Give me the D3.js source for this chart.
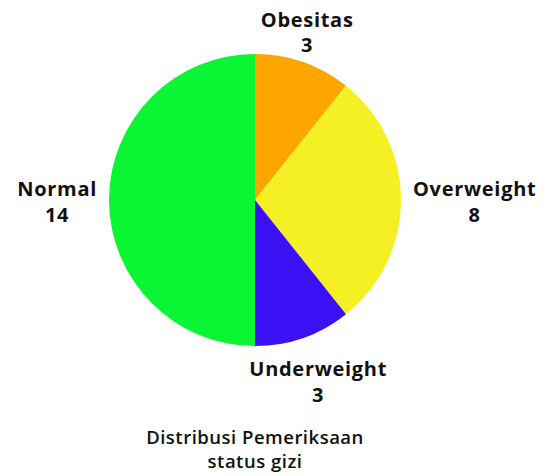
<!DOCTYPE html>
<html><head><meta charset="utf-8">
<script src="https://cdn.jsdelivr.net/npm/d3@7"></script>
<style>body{margin:0;background:#fff;} svg{display:block;}</style>
</head><body>
<svg id="chart" width="558" height="476"></svg>
<script>
const categories = ["Obesitas", "Overweight", "Underweight", "Normal"];
const values = [3, 8, 3, 14];
const colors = ["#ffa500", "#f5f023", "#3a10f5", "#0af534"];
const titleLines = ["Distribusi Pemeriksaan", "status gizi"];

const svg = d3.select("#chart");
const cx = 255, cy = 200, R = 146;
const FONT = "'Open Sans', sans-serif";
const data = categories.map((c, i) => ({cat: c, val: values[i], color: colors[i]}));
const pie = d3.pie().value(d => d.val).sort(null);
const arcs = pie(data);
const arc = d3.arc().innerRadius(0).outerRadius(R);
const g = svg.append("g").attr("transform", `translate(${cx},${cy})`);
g.selectAll("path").data(arcs).join("path")
  .attr("d", arc).attr("fill", d => d.data.color);

const lineH = 26;
const labelR = R + 12;
const adj = {Obesitas:[0,0], Overweight:[0,0], Underweight:[11,0], Normal:[0,0]};
arcs.forEach(a => {
  const mid = (a.startAngle + a.endAngle) / 2;
  const s = Math.sin(mid), c = Math.cos(mid);
  const px = s * labelR, py = -c * labelR;
  const t = g.append("text").attr("font-family", FONT).attr("font-weight", 700)
    .attr("font-size", 20).attr("letter-spacing", 0.7).attr("fill", "#111").attr("text-anchor", "middle");
  const l1 = t.append("tspan").text(a.data.cat);
  const l2 = t.append("tspan").text(a.data.val);
  const w = Math.max(l1.node().getComputedTextLength(), l2.node().getComputedTextLength());
  let bx, by; // block center x, first baseline y
  if (Math.abs(s) < 0.5) {
    bx = px;
    by = c > 0 ? py - 24 : py + 27;
  } else {
    bx = px + (s > 0 ? w / 2 : -w / 2);
    by = py - 4;
  }
  bx += adj[a.data.cat][0]; by += adj[a.data.cat][1];
  l1.attr("x", bx).attr("y", by);
  l2.attr("x", bx).attr("y", by + (c > 0 && Math.abs(s) < 0.5 ? 25 : lineH));
});

const tt = svg.append("text").attr("font-family", FONT).attr("font-weight", 600)
  .attr("font-size", 18.5).attr("letter-spacing", 0.5).attr("fill", "#111").attr("text-anchor", "middle");
titleLines.forEach((l, i) => tt.append("tspan").attr("x", cx).attr("y", 444 + i * 24).text(l));
</script>
</body></html>
